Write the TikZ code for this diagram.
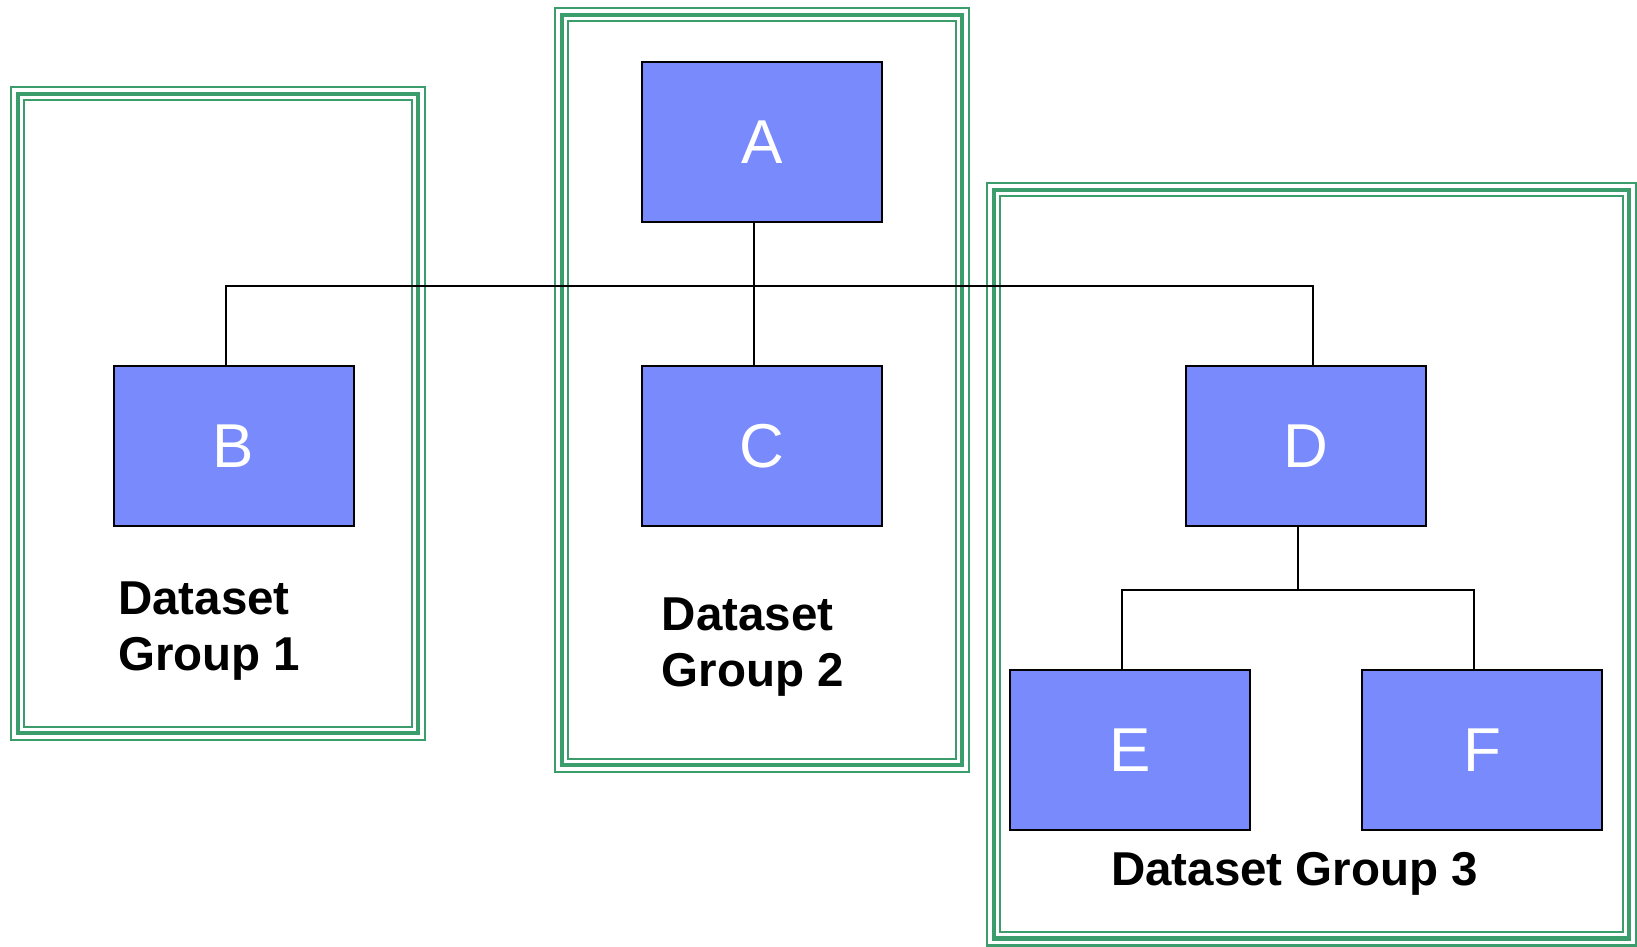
\documentclass[tikz,border=0pt]{standalone}
\usepackage{fontspec}
\setmainfont{Liberation Sans}
\definecolor{boxfill}{RGB}{120,138,252}
\definecolor{grpgreen}{RGB}{58,157,107}
\newcommand\tribox[4]{%
  \draw[grpgreen, line width=2.4pt] ([shift={(1.2,1.2)}]#1,#2) rectangle ([shift={(-1.2,-1.2)}]#3,#4);
  \draw[grpgreen, line width=4.6pt] ([shift={(8,8)}]#1,#2) rectangle ([shift={(-8,-8)}]#3,#4);
  \draw[grpgreen, line width=2.2pt] ([shift={(14.3,14.3)}]#1,#2) rectangle ([shift={(-14.3,-14.3)}]#3,#4);
}
\tikzset{
  blk/.style={draw=black, line width=2pt, fill=boxfill, minimum width=240pt, minimum height=160pt,
    inner sep=0pt, text=white, font=\fontsize{62}{70}\selectfont},
  conn/.style={draw=black, line width=1.7pt},
  glabel/.style={inner sep=0pt, font=\fontsize{47.5}{56}\selectfont\bfseries}
}
\begin{document}
\begin{tikzpicture}[x=1pt,y=-1pt]
\useasboundingbox (0,0) rectangle (1637,946);
% groups
\tribox{10}{86}{426}{741}
\tribox{554}{7}{970}{773}
\tribox{986}{182}{1637}{946.5}
% boxes
\node[blk] (A) at (761.7,141.8) {A};
\node[blk] (B) at (233.5,445.7) {B};
\node[blk] (C) at (761.7,445.7) {C};
\node[blk] (D) at (1305.8,445.7) {D};
\node[blk] (E) at (1129.7,749.7) {E};
\node[blk] (F) at (1482,749.7) {F};
% connectors
\coordinate (bus) at (753.8,285.7);
\coordinate (bus2) at (1298,590);
\draw[conn] ([xshift=-8]A.south) -- ([xshift=-8]C.north);
\draw[conn] ([xshift=-7.8]B.north) |- (bus) -| ([xshift=7.5]D.north);
\draw[conn] ([xshift=-7.8]D.south) -- (bus2);
\draw[conn] ([xshift=-7.7]E.north) |- (bus2) -| ([xshift=-8]F.north);
% labels
\node[glabel, anchor=base west] (g1) at (118,614) {\begin{tabular}[t]{@{}l@{}}Dataset\\Group 1\end{tabular}};
\node[glabel, anchor=base west] (g2) at (661.5,630) {\begin{tabular}[t]{@{}l@{}}Dataset\\Group 2\end{tabular}};
\node[glabel, anchor=base] (g3) at (1294.6,885) {Dataset Group 3};
\end{tikzpicture}
\end{document}
